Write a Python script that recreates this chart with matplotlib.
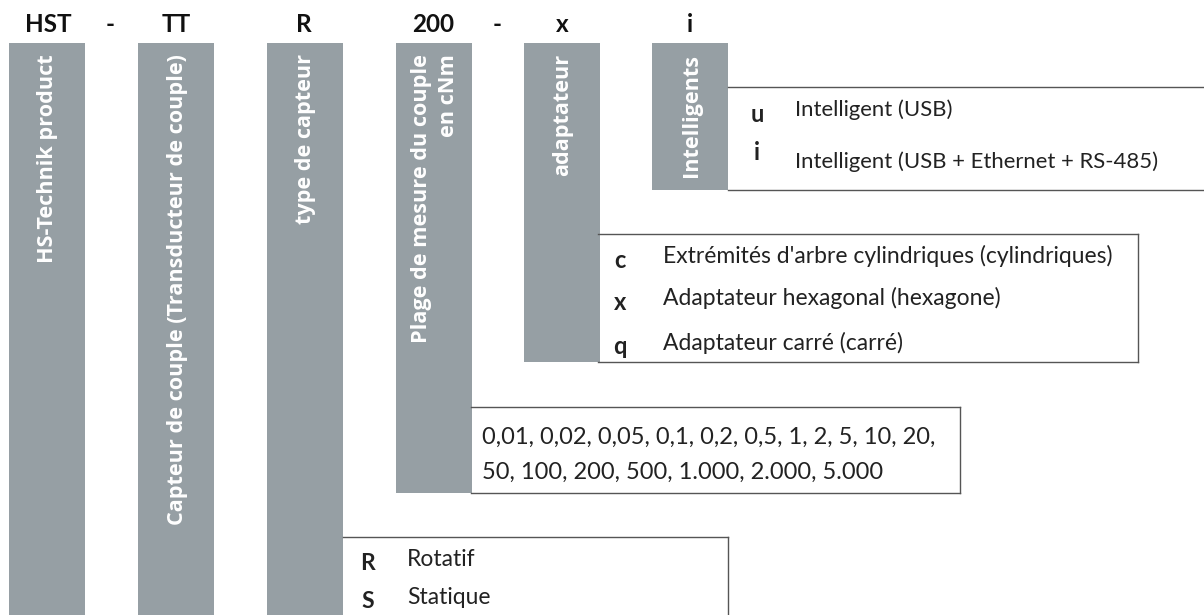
import matplotlib
matplotlib.use("Agg")
import matplotlib.pyplot as plt
from matplotlib.patches import Rectangle

# code segments of the product key
codes = ["HST", "-", "TT", "R", "200", "-", "x", "i"]
bar_titles = ["HS-Technik product",
              "Capteur de couple (Transducteur de couple)",
              "type de capteur",
              "Plage de mesure du couple\nen cNm",
              "adaptateur",
              "Intelligents"]
opt_intel = [("u", "Intelligent (USB)"),
             ("i", "Intelligent (USB + Ethernet + RS-485)")]
opt_adapt = [("c", "Extrémités d'arbre cylindriques (cylindriques)"),
             ("x", "Adaptateur hexagonal (hexagone)"),
             ("q", "Adaptateur carré (carré)")]
ranges = ["0,01, 0,02, 0,05, 0,1, 0,2, 0,5, 1, 2, 5, 10, 20,",
          "50, 100, 200, 500, 1.000, 2.000, 5.000"]
opt_type = [("R", "Rotatif"), ("S", "Statique")]

# layout (pixels)
code_x = [48, 110, 176, 304, 433, 497, 562, 690]
bar_left = [9, 138, 267, 396, 524, 652]
bar_bottom = [615, 615, 615, 493, 362, 190]
bar_w = 76
GRAY = "#969fa4"
LINE = "#555555"
TXT = "#222222"
body = ["Lato", "DejaVu Sans"]

fig = plt.figure(figsize=(12.04, 6.15), dpi=100)
ax = fig.add_axes([0, 0, 1, 1])
ax.set_xlim(0, 1204)
ax.set_ylim(615, 0)
ax.axis("off")

for x, c in zip(code_x, codes):
    ax.text(x, 32, c, ha="center", va="baseline", fontsize=17.5,
            fontweight="bold", color="#111111", family=body)

for left, bot, title in zip(bar_left, bar_bottom, bar_titles):
    ax.add_patch(Rectangle((left, 43), bar_w, bot - 43, color=GRAY, lw=0))
    ax.text(left + bar_w / 2 + 1, 54, title, rotation=90, ha="center",
            va="top", ma="right", fontsize=15.6, fontweight="bold",
            color="white", family=["Open Sans", "DejaVu Sans"],
            linespacing=1.4)

def box(x0, y0, x1, y1, right=True):
    ax.plot([x0, x1], [y0, y0], color=LINE, lw=1)
    ax.plot([x0, x1], [y1, y1], color=LINE, lw=1)
    if right:
        ax.plot([x1, x1], [y0, y1], color=LINE, lw=1)

# intelligent options
box(728, 87, 1204, 190, right=False)
for (k, t), yk, yt in zip(opt_intel, [115, 152], [110, 162]):
    ax.text(757, yk, k, ha="center", va="center", fontsize=17,
            fontweight="bold", color=TXT, family=body)
    ax.text(795, yt, t, ha="left", va="center", fontsize=15.9, color=TXT,
            family=body)

# adapter options
box(598, 234, 1138, 362)
for (k, t), y in zip(opt_adapt, [258, 300, 345]):
    ax.text(620, y + 2, k, ha="center", va="center", fontsize=17,
            fontweight="bold", color=TXT, family=body)
    ax.text(663, y - 2, t, ha="left", va="center", fontsize=16.5, color=TXT,
            family=body)

# measurement ranges
box(471, 407, 960, 493)
for line, y in zip(ranges, [437, 472]):
    ax.text(482, y, line, ha="left", va="center", fontsize=17, color=TXT,
            family=body)

# sensor type
ax.plot([343, 728], [537, 537], color=LINE, lw=1)
ax.plot([728, 728], [537, 615], color=LINE, lw=1)
for (k, t), yk, yt in zip(opt_type, [564, 602], [559, 597]):
    ax.text(368, yk, k, ha="center", va="center", fontsize=16.5,
            fontweight="bold", color=TXT, family=body)
    ax.text(407, yt, t, ha="left", va="center", fontsize=16.5, color=TXT,
            family=body)

fig.savefig("out.png", dpi=100)
